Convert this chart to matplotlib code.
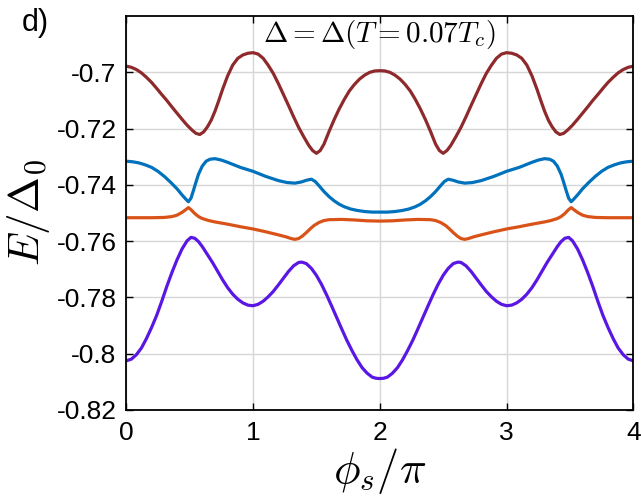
import matplotlib
matplotlib.use('Agg')
import matplotlib.pyplot as plt

# band energies E/Delta0 vs phi_s/pi
x_brown = [0, 0.04, 0.08, 0.12, 0.16, 0.20, 0.24, 0.28, 0.32, 0.36, 0.40, 0.44, 0.48, 0.52, 0.55, 0.58, 0.61,
           0.64, 0.67, 0.70, 0.73, 0.76, 0.80, 0.84, 0.88, 0.92, 0.96, 1.00, 1.04, 1.08, 1.12, 1.16, 1.20, 1.24,
           1.28, 1.32, 1.36, 1.40, 1.44, 1.47, 1.50, 1.53, 1.56, 1.60, 1.64, 1.68, 1.72, 1.76, 1.80, 1.84, 1.88,
           1.92, 1.96, 2.00,
           2.04, 2.08, 2.12, 2.16, 2.20, 2.24, 2.28, 2.32, 2.36, 2.40, 2.44, 2.47, 2.50, 2.53, 2.56, 2.60, 2.64,
           2.68, 2.72, 2.76, 2.80, 2.84, 2.88, 2.92, 2.96, 3.00, 3.04, 3.08, 3.12, 3.16, 3.20, 3.24, 3.27, 3.30,
           3.33, 3.36, 3.39, 3.42, 3.45, 3.48, 3.52, 3.56, 3.60, 3.64, 3.68, 3.72, 3.76, 3.80, 3.84, 3.88, 3.92,
           3.96, 4.00]
E_brown = [-0.6978, -0.6982, -0.6990, -0.7002, -0.7018, -0.7036, -0.7057, -0.7079, -0.7100, -0.7123, -0.7145,
           -0.7167, -0.7188, -0.7206, -0.7217, -0.7221, -0.7212, -0.7194, -0.7170, -0.7138, -0.7100, -0.7060,
           -0.7012, -0.6974, -0.6950, -0.6938, -0.6932, -0.6930, -0.6935, -0.6950, -0.6975, -0.7004, -0.7040,
           -0.7079, -0.7118, -0.7158, -0.7196, -0.7229, -0.7260, -0.7278, -0.7288, -0.7278, -0.7255, -0.7210,
           -0.7168, -0.7130, -0.7096, -0.7066, -0.7043, -0.7024, -0.7010, -0.7000, -0.6995, -0.6994,
           -0.6995, -0.7000, -0.7010, -0.7024, -0.7043, -0.7066, -0.7096, -0.7130, -0.7168, -0.7210, -0.7255,
           -0.7278, -0.7288, -0.7278, -0.7260, -0.7229, -0.7196, -0.7158, -0.7118, -0.7079, -0.7040, -0.7004,
           -0.6975, -0.6950, -0.6935, -0.6930, -0.6932, -0.6938, -0.6950, -0.6974, -0.7012, -0.7060, -0.7100,
           -0.7138, -0.7170, -0.7194, -0.7212, -0.7221, -0.7217, -0.7206, -0.7188, -0.7167, -0.7145, -0.7123,
           -0.7100, -0.7079, -0.7057, -0.7036, -0.7018, -0.7002, -0.6990, -0.6982, -0.6978]

x_blue = [0, 0.05, 0.10, 0.15, 0.20, 0.25, 0.30, 0.35, 0.40, 0.44, 0.47, 0.49, 0.51, 0.53, 0.55, 0.57, 0.60,
          0.63, 0.66, 0.70, 0.75, 0.80, 0.90, 1.00, 1.10, 1.20, 1.27, 1.33, 1.38, 1.42, 1.46, 1.49, 1.52, 1.56,
          1.60, 1.64, 1.68, 1.72, 1.77, 1.82, 1.88, 1.94, 2.00,
          2.06, 2.12, 2.18, 2.23, 2.28, 2.32, 2.36, 2.40, 2.44, 2.48, 2.51, 2.54, 2.58, 2.62, 2.67, 2.73, 2.80,
          2.90, 3.00, 3.10, 3.20, 3.25, 3.30, 3.34, 3.37, 3.40, 3.43, 3.45, 3.47, 3.49, 3.51, 3.53, 3.56, 3.60,
          3.65, 3.70, 3.75, 3.80, 3.85, 3.90, 3.95, 4.00]
E_blue = [-0.7316, -0.7318, -0.7322, -0.7329, -0.7338, -0.7352, -0.7370, -0.7391, -0.7414, -0.7436, -0.7451,
          -0.7460, -0.7448, -0.7420, -0.7390, -0.7362, -0.7333, -0.7316, -0.7309, -0.7307, -0.7312, -0.7320,
          -0.7338, -0.7352, -0.7370, -0.7385, -0.7392, -0.7394, -0.7390, -0.7384, -0.7380, -0.7388, -0.7403,
          -0.7424, -0.7442, -0.7457, -0.7469, -0.7478, -0.7486, -0.7491, -0.7495, -0.7497, -0.7497,
          -0.7497, -0.7495, -0.7491, -0.7486, -0.7478, -0.7469, -0.7457, -0.7442, -0.7424, -0.7403, -0.7388,
          -0.7380, -0.7384, -0.7390, -0.7394, -0.7392, -0.7385, -0.7370, -0.7352, -0.7338, -0.7320, -0.7312,
          -0.7307, -0.7309, -0.7316, -0.7333, -0.7362, -0.7390, -0.7420, -0.7448, -0.7460, -0.7451, -0.7436,
          -0.7414, -0.7391, -0.7370, -0.7352, -0.7338, -0.7329, -0.7322, -0.7318, -0.7316]

x_orange = [0, 0.2, 0.3, 0.36, 0.40, 0.44, 0.47, 0.49, 0.51, 0.54, 0.57, 0.60, 0.65, 0.70, 0.80, 0.90, 1.00,
            1.10, 1.20, 1.26, 1.30, 1.33, 1.36, 1.39, 1.42, 1.45, 1.48, 1.52, 1.56, 1.60, 1.70, 1.80, 1.90, 2.00,
            2.10, 2.20, 2.30, 2.40, 2.44, 2.48, 2.52, 2.55, 2.58, 2.61, 2.64, 2.67, 2.70, 2.74, 2.80, 2.90, 3.00,
            3.10, 3.20, 3.30, 3.35, 3.40, 3.43, 3.46, 3.49, 3.51, 3.53, 3.56, 3.60, 3.64, 3.70, 3.80, 4.00]
E_orange = [-0.7517, -0.7517, -0.7516, -0.7513, -0.7508, -0.7498, -0.7488, -0.7481, -0.7488, -0.7502, -0.7513,
            -0.7520, -0.7527, -0.7532, -0.7540, -0.7549, -0.7557, -0.7567, -0.7578, -0.7585, -0.7591, -0.7594,
            -0.7591, -0.7582, -0.7570, -0.7557, -0.7545, -0.7534, -0.7527, -0.7524, -0.7523, -0.7525, -0.7528,
            -0.7529,
            -0.7528, -0.7525, -0.7523, -0.7524, -0.7527, -0.7534, -0.7545, -0.7557, -0.7570, -0.7582, -0.7591,
            -0.7594, -0.7591, -0.7585, -0.7578, -0.7567, -0.7557, -0.7549, -0.7540, -0.7532, -0.7527, -0.7520,
            -0.7513, -0.7502, -0.7488, -0.7481, -0.7488, -0.7498, -0.7508, -0.7513, -0.7516, -0.7517, -0.7517]

x_purple = [0, 0.04, 0.08, 0.12, 0.16, 0.20, 0.24, 0.28, 0.32, 0.36, 0.40, 0.44, 0.48, 0.51, 0.54, 0.57, 0.60,
            0.64, 0.68, 0.72, 0.76, 0.80, 0.84, 0.88, 0.92, 0.96, 1.00, 1.04, 1.08, 1.12, 1.16, 1.20, 1.24, 1.28,
            1.32, 1.36, 1.385, 1.42, 1.46, 1.50, 1.54, 1.58, 1.62, 1.66, 1.70, 1.74, 1.78, 1.82, 1.86, 1.90, 1.94,
            1.97, 2.00,
            2.03, 2.06, 2.10, 2.14, 2.18, 2.22, 2.26, 2.30, 2.34, 2.38, 2.42, 2.46, 2.50, 2.54, 2.58, 2.615, 2.64,
            2.68, 2.72, 2.76, 2.80, 2.84, 2.88, 2.92, 2.96, 3.00, 3.04, 3.08, 3.12, 3.16, 3.20, 3.24, 3.28, 3.32,
            3.36, 3.40, 3.43, 3.46, 3.49, 3.52, 3.56, 3.60, 3.64, 3.68, 3.72, 3.76, 3.80, 3.84, 3.88, 3.92, 3.96,
            4.00]
E_purple = [-0.8026, -0.8020, -0.8004, -0.7980, -0.7946, -0.7907, -0.7864, -0.7814, -0.7761, -0.7712, -0.7667,
            -0.7628, -0.7599, -0.7587, -0.7590, -0.7602, -0.7620, -0.7648, -0.7676, -0.7707, -0.7738, -0.7766,
            -0.7789, -0.7807, -0.7820, -0.7828, -0.7830, -0.7825, -0.7814, -0.7798, -0.7779, -0.7756, -0.7732,
            -0.7708, -0.7688, -0.7676, -0.7675, -0.7680, -0.7697, -0.7722, -0.7754, -0.7791, -0.7831, -0.7872,
            -0.7913, -0.7953, -0.7989, -0.8022, -0.8050, -0.8070, -0.8084, -0.8088, -0.8089,
            -0.8088, -0.8084, -0.8070, -0.8050, -0.8022, -0.7989, -0.7953, -0.7913, -0.7872, -0.7831, -0.7791,
            -0.7754, -0.7722, -0.7697, -0.7680, -0.7675, -0.7676, -0.7688, -0.7708, -0.7732, -0.7756, -0.7779,
            -0.7798, -0.7814, -0.7825, -0.7830, -0.7828, -0.7820, -0.7807, -0.7789, -0.7766, -0.7738, -0.7707,
            -0.7676, -0.7648, -0.7620, -0.7602, -0.7590, -0.7587, -0.7599, -0.7628, -0.7667, -0.7712, -0.7761,
            -0.7814, -0.7864, -0.7907, -0.7946, -0.7980, -0.8004, -0.8020, -0.8026]

xticks = [0, 1, 2, 3, 4]
yticks = [-0.82, -0.8, -0.78, -0.76, -0.74, -0.72, -0.7]
ytick_labels = ['-0.82', '-0.8', '-0.78', '-0.76', '-0.74', '-0.72', '-0.7']

plt.rcParams['font.family'] = ['Liberation Sans', 'DejaVu Sans']
plt.rcParams['mathtext.fontset'] = 'cm'
plt.rcParams['axes.unicode_minus'] = False

fig = plt.figure(figsize=(6.41, 5.04), dpi=100)
ax = fig.add_axes([0.197, 0.187, 0.791, 0.781])

lw = 2.3
ax.plot(x_brown, E_brown, color='#8f2a2c', lw=lw, solid_joinstyle='round')
ax.plot(x_blue, E_blue, color='#0072bd', lw=lw, solid_joinstyle='round')
ax.plot(x_orange, E_orange, color='#d95319', lw=lw, solid_joinstyle='round')
ax.plot(x_purple, E_purple, color='#5a17e3', lw=lw, solid_joinstyle='round')

ax.set_xlim(0, 4)
ax.set_ylim(-0.82, -0.68)
ax.set_xticks(xticks)
ax.set_yticks(yticks)
ax.set_yticklabels(ytick_labels)
ax.grid(True, color='#d6d6d6', lw=1.0)
ax.set_axisbelow(True)
ax.tick_params(direction='in', top=True, right=True, length=5, width=1.0, labelsize=19, colors='black')
ax.tick_params(axis='x', pad=8)
ax.tick_params(axis='y', pad=7)
for s in ax.spines.values():
    s.set_linewidth(1.3)

ax.set_xlabel(r'$\phi_s/\pi$', fontsize=32, labelpad=1)
ax.set_ylabel(r'$E/\Delta_0$', fontsize=31, labelpad=3)
ax.text(2.0, -0.6866, r'$\Delta = \Delta(T = 0.07T_c)$', fontsize=21, ha='center', va='center')
fig.text(0.034, 0.955, 'd)', fontsize=22, ha='left', va='center')

plt.savefig('out.png', dpi=100)
plt.close()
